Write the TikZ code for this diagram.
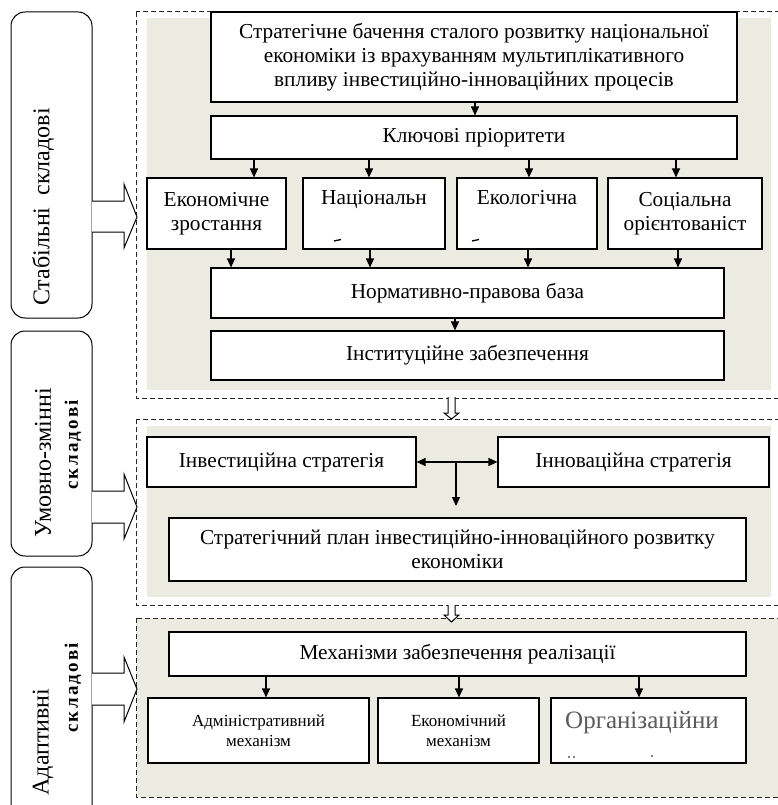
\documentclass[tikz,border=0pt]{standalone}
\usepackage{fontspec}
\setmainfont{Liberation Serif}
\usetikzlibrary{arrows.meta}
\definecolor{panel}{RGB}{236,235,226}
\definecolor{orgtext}{RGB}{90,90,90}
\definecolor{dashcol}{RGB}{40,40,40}
\begin{document}
\begin{tikzpicture}[x=1pt,y=-1pt,
  box/.style={draw, line width=1.1pt, fill=white, inner sep=0pt, align=center,
    font=\fontsize{21.3}{24}\selectfont},
  smallbox/.style={box, font=\fontsize{17}{20}\selectfont},
  sidebox/.style={draw, line width=1pt, rounded corners=14pt, inner sep=0pt, minimum width=81pt},
  sidetext/.style={rotate=90, inner sep=0pt, font=\fontsize{24}{28}\selectfont},
  sidebold/.style={rotate=90, inner sep=0pt, font=\fontsize{19}{22}\selectfont\bfseries\addfontfeature{LetterSpace=12}},
  frame/.style={draw=dashcol, line width=1pt, dash pattern=on 5pt off 3pt},
  arr/.style={line width=1.1pt, -{Triangle[length=9pt,width=8pt]}},
  darr/.style={line width=1.1pt, {Triangle[length=9pt,width=8pt]}-{Triangle[length=9pt,width=8pt]}},
  hollow/.style={draw, line width=1pt, fill=white, line join=miter}
]
\useasboundingbox (0,0) rectangle (778,805);
\clip (0,0) rectangle (778,805);

% frames
\fill[panel] (147,18) rectangle (771,390);
\draw[frame] (136,12) rectangle (800,398);
\fill[panel] (147,426) rectangle (771,597);
\draw[frame] (136,419) rectangle (800,605);
\filldraw[frame, fill=panel] (136,618) rectangle (800,797);

% side boxes
\node[sidebox, minimum height=306pt] (s1) at (51.5,165) {};
\node[sidebox, minimum height=225pt] (s2) at (51.5,443.5) {};
\node[sidebox, minimum height=260pt] (s3) at (51.5,697) {};
\node[sidetext] (t1) at (43,207) {Стабільні\ \ складові};
\node[sidetext] (t2) at (43,463) {Умовно-змінні};
\node[sidebold] (t2b) at (73,445) {складові};
\node[sidetext] (t3) at (43,742) {Адаптивні};
\node[sidebold] (t3b) at (73,688) {складові};

% big hollow arrows
\draw[hollow] (92,201) -- (124,201) -- (124,184) -- (137,217) -- (124,248) -- (124,232) -- (92,232);
\draw[hollow] (92,491) -- (124,491) -- (124,474) -- (137,507) -- (124,539) -- (124,523) -- (92,523);
\draw[hollow] (92,673) -- (124,673) -- (124,657) -- (137,689) -- (124,722) -- (124,705) -- (92,705);

% small hollow arrows between frames
\draw[hollow] (448,397) -- (448,413) -- (444,413) -- (451.5,419) -- (459,413) -- (455,413) -- (455,397);
\draw[hollow] (448,605) -- (448,615) -- (444,615) -- (451.5,622) -- (459,615) -- (455,615) -- (455,605);

% frame 1
\node[box, minimum width=526pt, minimum height=90pt] (vision) at (474,57)
  {Стратегічне бачення сталого розвитку національної\\економіки із врахуванням мультиплікативного\\впливу інвестиційно-інноваційних процесів};
\node[box, minimum width=526pt, minimum height=43pt] (keys) at (474,137.5) {Ключові пріоритети};
\node[box, minimum width=139pt, minimum height=71pt] (e1) at (216.5,213.5) {Економічне\\зростання};
\node[box, minimum width=142pt, minimum height=71pt] (e2) at (374,213.5) {Національн\\\strut};
\node[box, minimum width=140pt, minimum height=71pt] (e3) at (527,213.5) {Екологічна\\\strut};
\node[box, minimum width=154pt, minimum height=71pt] (e4) at (685,213.5) {Соціальна\\орієнтованіст};
\node[box, minimum width=513pt, minimum height=50pt] (norm) at (467.5,293) {Нормативно-правова база};
\node[box, minimum width=513pt, minimum height=49pt] (inst) at (467.5,355.5) {Інституційне забезпечення};
\draw[line width=1.3pt] (334,241) -- (341,239.5);
\draw[line width=1.3pt] (472,241) -- (479,239.5);

\coordinate (cv) at (475,0);
\coordinate (ck1) at (254,0);
\coordinate (ck2) at (369,0);
\coordinate (ck3) at (529,0);
\coordinate (ck4) at (676,0);
\coordinate (cn1) at (231,0);
\coordinate (cn2) at (370,0);
\coordinate (cn3) at (528,0);
\coordinate (cn4) at (678,0);
\coordinate (ci) at (455,0);
\draw[arr] (vision.south -| cv) -- (keys.north -| cv);
\draw[arr] (keys.south -| ck1) -- (e1.north -| ck1);
\draw[arr] (keys.south -| ck2) -- (e2.north -| ck2);
\draw[arr] (keys.south -| ck3) -- (e3.north -| ck3);
\draw[arr] (keys.south -| ck4) -- (e4.north -| ck4);
\draw[arr] (e1.south -| cn1) -- (norm.north -| cn1);
\draw[arr] (e2.south -| cn2) -- (norm.north -| cn2);
\draw[arr] (e3.south -| cn3) -- (norm.north -| cn3);
\draw[arr] (e4.south -| cn4) -- (norm.north -| cn4);
\draw[arr] (norm.south -| ci) -- (inst.north -| ci);

% frame 2
\node[box, minimum width=269pt, minimum height=50pt] (inv) at (281.5,462) {Інвестиційна стратегія};
\node[box, minimum width=271pt, minimum height=50pt] (inn) at (633.5,462) {Інноваційна стратегія};
\node[box, minimum width=577pt, minimum height=63pt] (plan) at (457.5,549.5)
  {Стратегічний план інвестиційно-інноваційного розвитку\\економіки};
\coordinate (jn) at (456,462);
\coordinate (jd) at (456,506);
\draw[darr] (inv.east) -- (inn.west);
\draw[arr] (jn) -- (jd);

% frame 3
\node[box, minimum width=577pt, minimum height=44pt] (mech) at (457.5,654) {Механізми забезпечення реалізації};
\node[smallbox, minimum width=221pt, minimum height=65pt] (m1) at (258.5,730.5) {Адміністративний\\механізм};
\node[smallbox, minimum width=161pt, minimum height=65pt] (m2) at (458.5,730.5) {Економічний\\механізм};
\node[box, minimum width=195pt, minimum height=65pt] (m3) at (648.5,730.5) {};
\node[font=\fontsize{25}{28}\selectfont, text=orgtext, inner sep=0pt, anchor=base west] (org) at (565,728) {Організаційни};
\fill (569,757) circle (0.8);
\fill (574,757) circle (0.8);
\fill (652,756) circle (0.8);
\coordinate (cm1) at (266,0);
\coordinate (cm2) at (459,0);
\coordinate (cm3) at (639,0);
\draw[arr] (mech.south -| cm1) -- (m1.north -| cm1);
\draw[arr] (mech.south -| cm2) -- (m2.north -| cm2);
\draw[arr] (mech.south -| cm3) -- (m3.north -| cm3);
\end{tikzpicture}
\end{document}
